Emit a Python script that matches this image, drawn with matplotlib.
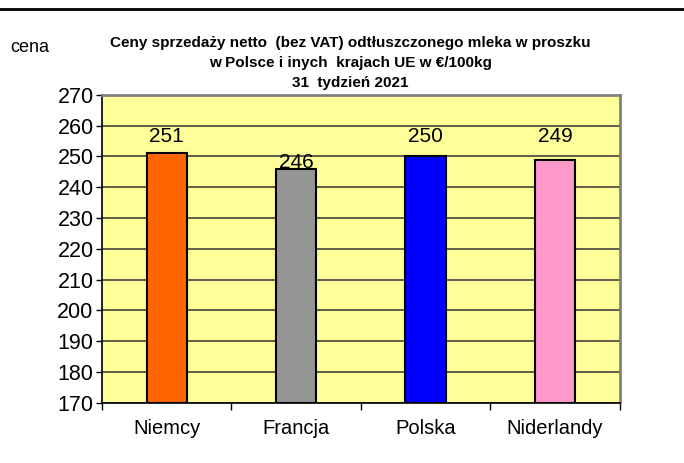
import matplotlib
matplotlib.use('Agg')
import matplotlib.pyplot as plt
from matplotlib.lines import Line2D
import numpy as np

plt.rcParams['font.family'] = ['Liberation Sans', 'DejaVu Sans']

# dane
kraje = ['Niemcy', 'Francja', 'Polska', 'Niderlandy']
ceny = [251, 246, 250, 249]
kolory = ['#FF6600', '#969696', '#0000FF', '#FF99CC']
tytul = ('Ceny sprzedaży netto  (bez VAT) odtłuszczonego mleka w proszku\n'
         'w Polsce i inych  krajach UE w €/100kg\n'
         '31  tydzień 2021')
y_ticks = list(range(170, 271, 10))
# wysokosc podpisow wartosci (jak w oryginale)
podpis_y = [254.7, 246.3, 254.7, 254.7]

fig = plt.figure(figsize=(6.84, 4.63), dpi=100)
ax = fig.add_axes([0.149, 0.13, 0.757, 0.665])
ax.set_facecolor('#FFFF99')

x = np.arange(len(kraje))
ax.bar(x, [c - 170 for c in ceny], bottom=170, width=0.31, color=kolory,
       edgecolor='black', linewidth=1.5, zorder=3)
for xi, c, py in zip(x, ceny, podpis_y):
    ax.text(xi, py, str(c), ha='center', va='baseline', fontsize=15, zorder=4)

ax.set_ylim(170, 270)
ax.set_xlim(-0.5, len(kraje) - 0.5)
ax.set_yticks(y_ticks)
ax.tick_params(axis='y', labelsize=15.5, length=4, width=1, direction='out', pad=2)
ax.yaxis.grid(True, color='#333333', linewidth=1.1, zorder=1)
ax.set_axisbelow(True)

# kategorie: podpisy na srodku, kreski na granicach
ax.set_xticks(x)
ax.set_xticklabels(kraje, fontsize=14.5)
ax.tick_params(axis='x', length=0, pad=12)
ax.set_xticks(np.arange(-0.5, len(kraje)), minor=True)
ax.tick_params(axis='x', which='minor', length=5, width=1, direction='out')

for s in ['left', 'bottom']:
    ax.spines[s].set_color('black')
    ax.spines[s].set_linewidth(1.2)
for s in ['top', 'right']:
    ax.spines[s].set_color('#808080')
    ax.spines[s].set_linewidth(2)

fig.text(0.512, 0.922, tytul, ha='center', va='top', fontsize=11,
         fontweight='bold', linespacing=1.55)
fig.text(0.015, 0.898, 'cena', ha='left', va='center', fontsize=13)

fig.add_artist(Line2D([0, 1], [0.981, 0.981], color='black', linewidth=2,
                      transform=fig.transFigure))

fig.savefig('out.png', dpi=100)
